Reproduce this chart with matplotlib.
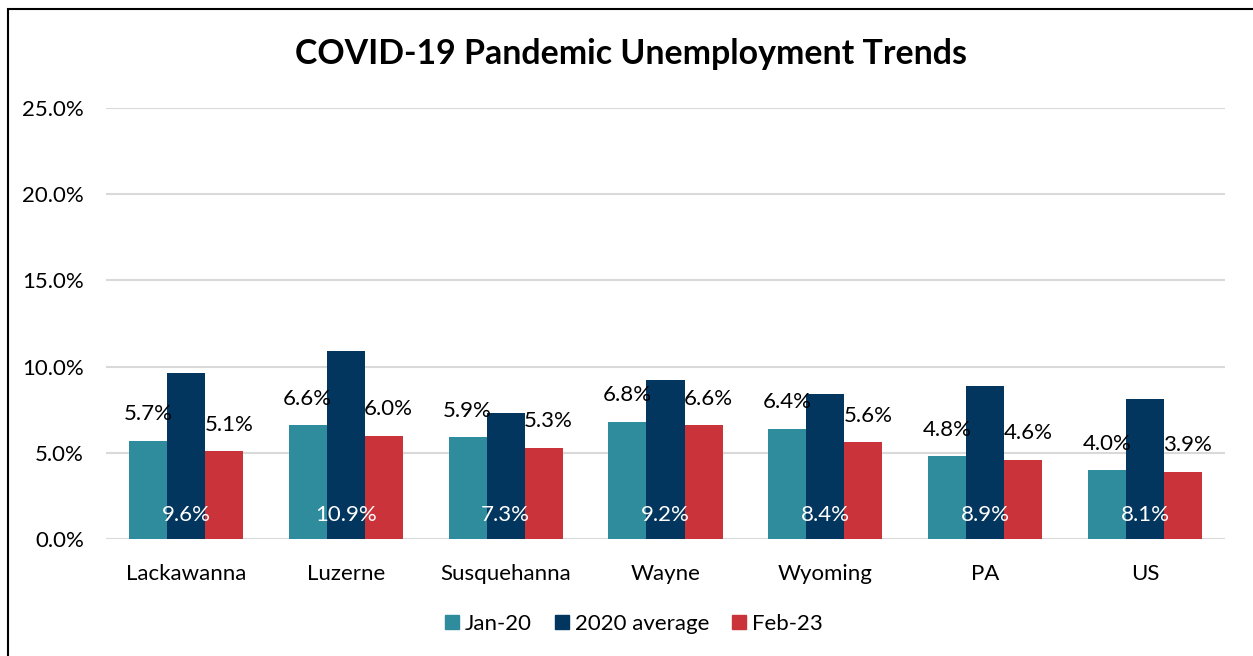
import matplotlib
matplotlib.use("Agg")
import matplotlib.pyplot as plt
from matplotlib.patches import Rectangle, Patch
import numpy as np

categories = ["Lackawanna", "Luzerne", "Susquehanna", "Wayne", "Wyoming", "PA", "US"]
jan20 = [5.7, 6.6, 5.9, 6.8, 6.4, 4.8, 4.0]
avg2020 = [9.6, 10.9, 7.3, 9.2, 8.4, 8.9, 8.1]
feb23 = [5.1, 6.0, 5.3, 6.6, 5.6, 4.6, 3.9]
series_names = ["Jan-20", "2020 average", "Feb-23"]
yticks = [0, 5, 10, 15, 20, 25]

c_teal = "#2F8C9D"
c_navy = "#03365F"
c_red = "#CB333B"

plt.rcParams['font.family'] = ['Lato', 'DejaVu Sans']

fig = plt.figure(figsize=(12.53, 6.56), dpi=100)
W, H = 1253, 656
ax = fig.add_axes([106 / W, 1 - 539 / H, (1225 - 106) / W, (539 - 108) / H])

x = np.arange(len(categories))
bw = 0.238
ax.bar(x - bw, jan20, bw, color=c_teal, zorder=3)
ax.bar(x, avg2020, bw, color=c_navy, zorder=3)
ax.bar(x + bw, feb23, bw, color=c_red, zorder=3)

fs = 16
for xi, v in zip(x - bw, jan20):
    ax.annotate(f"{v:.1f}%", (xi, v), xytext=(0, 19), textcoords="offset points",
                ha="center", va="center", fontsize=fs, color="black", zorder=4)
for xi, v in zip(x + bw, feb23):
    ax.annotate(f"{v:.1f}%", (xi + 0.03, v), xytext=(0, 19), textcoords="offset points",
                ha="center", va="center", fontsize=fs, color="black", zorder=4)
for xi, v in zip(x, avg2020):
    ax.annotate(f"{v:.1f}%", (xi, 0), xytext=(0, 17.5), textcoords="offset points",
                ha="center", va="center", fontsize=fs, color="white", zorder=4)

ax.set_ylim(0, 25)
ax.set_xlim(-0.5, len(categories) - 0.5)
ax.set_yticks(yticks)
ax.set_yticklabels([f"{t:.1f}%" for t in yticks], fontsize=fs)
ax.set_xticks(x)
ax.set_xticklabels(categories, fontsize=fs)
ax.tick_params(axis="both", length=0)
ax.tick_params(axis="y", pad=16)
ax.tick_params(axis="x", pad=18)
ax.grid(axis="y", color="#D9D9D9", linewidth=1.5, zorder=0)
for s in ax.spines.values():
    s.set_visible(False)

fig.text(631 / W, 1 - 54 / H, "COVID-19 Pandemic Unemployment Trends",
         ha="center", va="center", fontsize=24.4, fontweight="bold")

handles = [Patch(color=c) for c in (c_teal, c_navy, c_red)]
fig.legend(handles, series_names, loc="center", bbox_to_anchor=(634 / W, 1 - 624 / H),
           ncol=3, frameon=False, fontsize=fs, handlelength=0.63, handleheight=0.63,
           handletextpad=0.25, columnspacing=1.05)

fig.patches.append(Rectangle((8 / W, -0.1), 1.2, (1 - 9 / H) + 0.1, transform=fig.transFigure,
                             fill=False, edgecolor="black", linewidth=1.5))

fig.savefig("out.png", dpi=100)
